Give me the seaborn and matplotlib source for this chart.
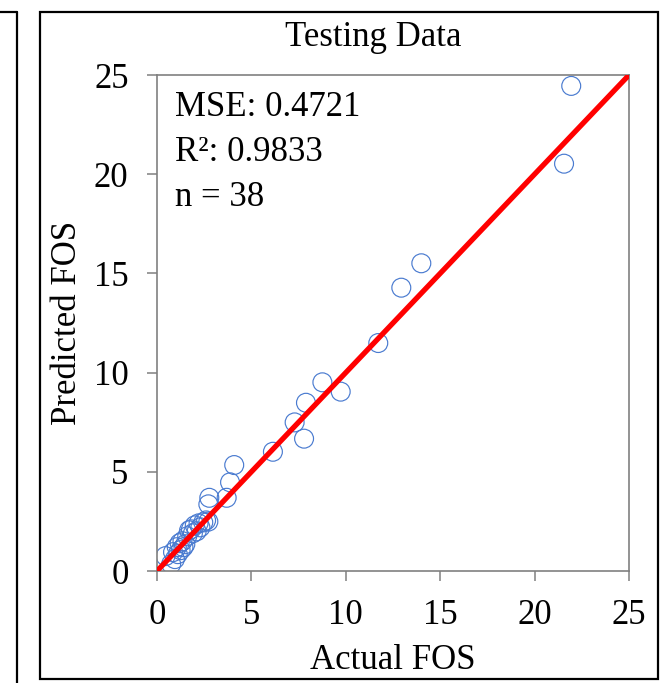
import matplotlib
matplotlib.use("Agg")
import matplotlib.pyplot as plt
import seaborn as sns
import pandas as pd
from matplotlib.patches import Rectangle
from matplotlib.lines import Line2D

# ---- data ----
actual_fos = [21.94, 21.56, 14.00, 12.94, 11.72, 8.76, 9.73, 7.89, 7.29, 7.79, 6.14,
              4.09, 3.87, 3.69, 2.77, 2.72, 2.72,
              0.45, 0.75, 0.85, 0.95, 1.05, 1.10, 1.20, 1.25, 1.35, 1.40, 1.50,
              1.60, 1.70, 1.80, 1.90, 2.00, 2.10, 2.20, 2.30, 2.45, 2.60]
predicted_fos = [24.45, 20.53, 15.51, 14.28, 11.49, 9.51, 9.04, 8.48, 7.49, 6.67, 6.01,
                 5.34, 4.47, 3.69, 3.69, 3.36, 2.49,
                 0.75, 0.35, 0.95, 0.60, 1.20, 0.85, 1.40, 1.05, 1.50, 1.20, 1.35,
                 1.75, 2.05, 2.10, 1.90, 2.30, 2.00, 2.40, 2.20, 2.45, 2.55]
ideal_line = [0, 25]
ticks = [0, 5, 10, 15, 20, 25]
title = "Testing Data"
stats_text = "MSE: 0.4721\nR²: 0.9833\nn = 38"

df = pd.DataFrame({"Actual FOS": actual_fos, "Predicted FOS": predicted_fos})

sns.set_theme(style="white")
plt.rcParams["font.family"] = ["Liberation Serif", "DejaVu Serif"]

W, H = 665, 683
fig = plt.figure(figsize=(W / 100, H / 100), dpi=100)
ax = fig.add_axes([157 / W, 1 - 571 / H, (629 - 157) / W, (571 - 75) / H])

sns.scatterplot(data=df, x="Actual FOS", y="Predicted FOS", ax=ax, marker="o",
                s=185, facecolor="none", edgecolor="#4A7BD0", linewidth=0.85, zorder=2)
sns.lineplot(x=ideal_line, y=ideal_line, ax=ax, color="#FF0000", linewidth=3.8, zorder=3)

ax.set_xlim(0, 25)
ax.set_ylim(0, 25)
ax.set_xticks(ticks)
ax.set_yticks(ticks)
ax.tick_params(axis="both", direction="out", length=7, width=1.1, color="#808080",
               labelsize=25, labelcolor="black", pad=13.5, bottom=True, left=True)
for sp in ax.spines.values():
    sp.set_color("#808080")
    sp.set_linewidth(1.2)
ax.set_xlabel("Actual FOS", fontsize=25, color="black", labelpad=8)
ax.set_ylabel("Predicted FOS", fontsize=25, color="black", labelpad=7)

ax.text(0.038, 0.967, stats_text, transform=ax.transAxes, ha="left", va="top",
        fontsize=25, linespacing=1.48, color="black")

fig.text(373.5 / W, 1 - 38 / H, title, ha="center", va="center", fontsize=25, color="black")

# panel frames
fig.add_artist(Rectangle((40 / W, 1 - 679 / H), (658 - 40) / W, (679 - 12) / H,
                         transform=fig.transFigure, fill=False, edgecolor="black", linewidth=1.6))
fig.add_artist(Line2D([17 / W, 17 / W], [1 - 12 / H, 0], transform=fig.transFigure,
                      color="black", linewidth=1.6))
fig.add_artist(Line2D([0, 17 / W], [1 - 12 / H, 1 - 12 / H], transform=fig.transFigure,
                      color="black", linewidth=1.6))

fig.savefig("out.png", dpi=100)
